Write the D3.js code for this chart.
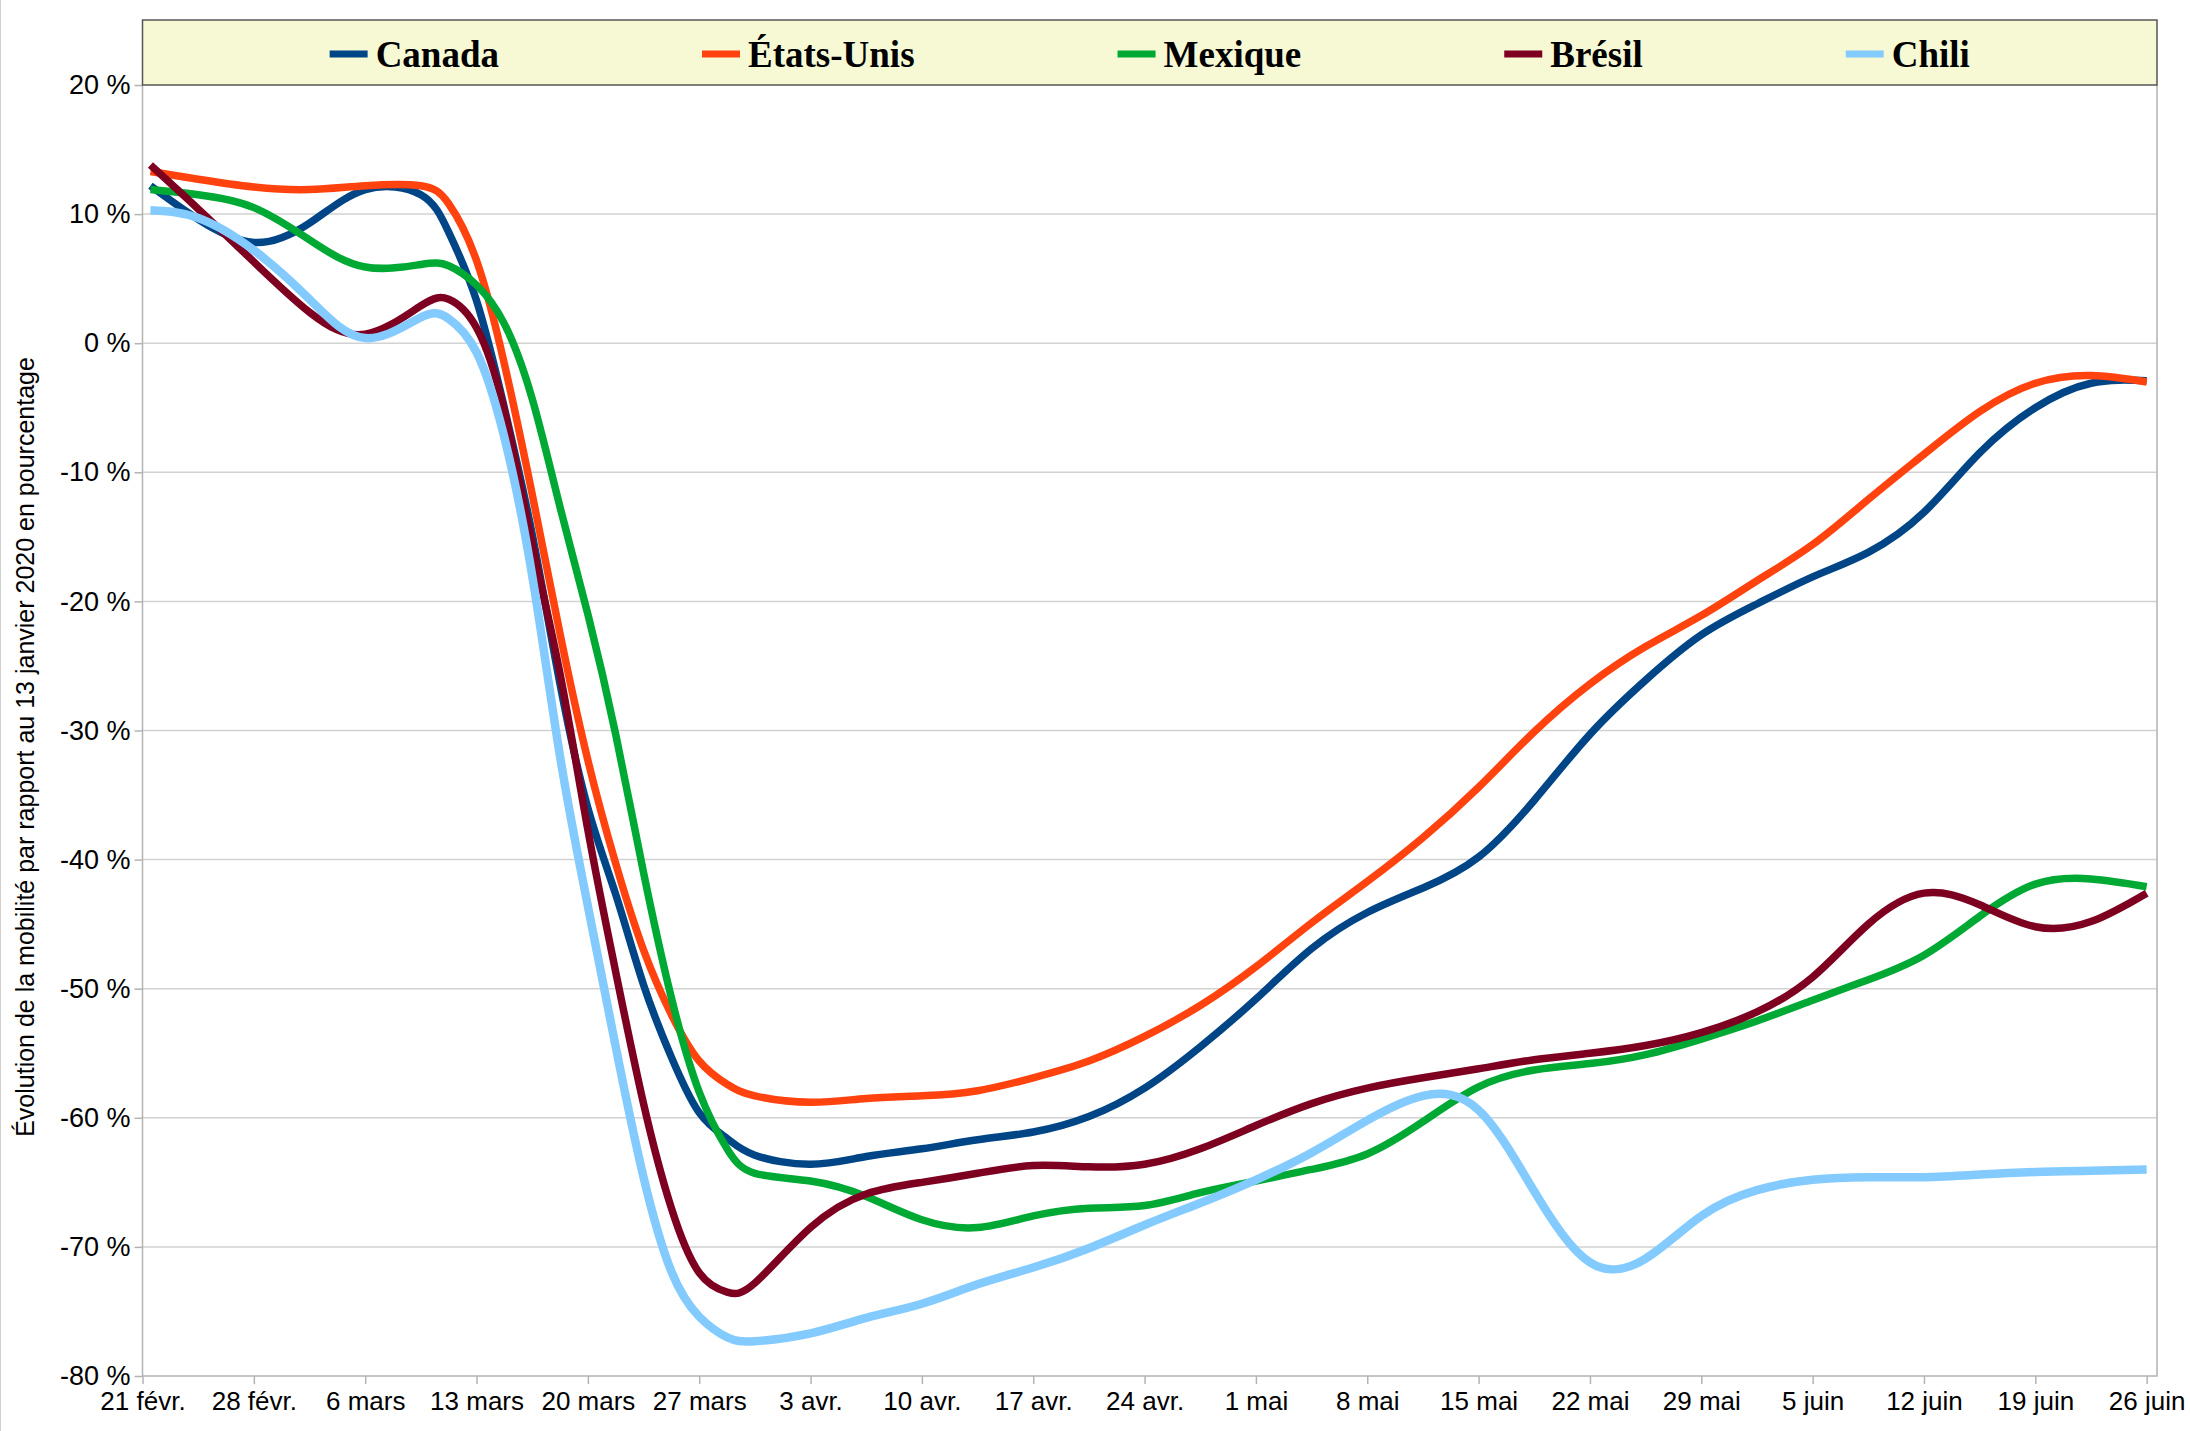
<!DOCTYPE html>
<html lang="fr">
<head>
<meta charset="utf-8">
<title>Mobilité</title>
<script src="https://cdn.jsdelivr.net/npm/d3@7"></script>
<style>
    body { margin: 0; background: #fff; }
    svg { display: block; font-family: "Liberation Sans", Arial, sans-serif; }
</style>
</head>
<body>
<svg id="chart" width="2190" height="1431"></svg>
<script>
// jours depuis le 21 février
const days = [0.5, 3.5, 7, 10.5, 14, 17.5, 19.25, 21, 22.75, 24.5, 26.25, 28, 29.75, 31.5, 33.25, 35, 36.75, 38.5,
    42, 45.5, 49, 52.5, 56, 59.5, 63, 66.5, 70, 73.5, 77, 80.5, 84, 87.5, 91, 94.5, 98, 101.5, 105, 108.5, 112, 115.5, 119, 122.5, 126];

const canada = [12.2, 9.6, 7.8, 9.3, 11.9, 11.5, 8.6, 3.3, -5.0, -14.8, -26.4, -36.0, -42.7, -49.7, -55.3, -59.6, -61.6, -62.9,
    -63.6, -63.0, -62.4, -61.7, -61.1, -59.9, -57.7, -54.5, -50.8, -46.9, -44.1, -42.2, -39.8, -35.4, -30.3, -26.1, -22.6, -20.2, -18.1, -16.2, -13.1, -8.5, -5.0, -3.1, -2.9];
const etatsUnis = [13.3, 12.7, 12.1, 11.9, 12.2, 12.2, 10.8, 6.4, -1.6, -11.7, -22.5, -32.3, -40.3, -47.0, -52.0, -55.6, -57.4, -58.3,
    -58.8, -58.5, -58.3, -57.9, -56.9, -55.6, -53.7, -51.3, -48.3, -44.9, -41.7, -38.3, -34.4, -30.1, -26.4, -23.5, -21.1, -18.4, -15.6, -12.1, -8.6, -5.3, -3.1, -2.5, -3.0];
const mexique = [11.9, 11.5, 10.5, 8.0, 5.9, 6.1, 6.0, 4.5, 1.5, -4.3, -12.7, -21.0, -30.3, -41.0, -50.7, -58.0, -62.4, -64.3,
    -64.9, -66.1, -67.9, -68.5, -67.6, -67.0, -66.8, -65.8, -64.9, -64.0, -62.8, -60.3, -57.6, -56.3, -55.8, -55.1, -53.9, -52.5, -50.9, -49.3, -47.4, -44.4, -41.9, -41.5, -42.1];
const bresil = [13.8, 10.4, 6.3, 2.4, 0.7, 2.9, 3.4, 1.2, -5.2, -15.5, -25.6, -37.7, -48.7, -58.9, -67.0, -72.0, -73.5, -72.8,
    -68.5, -65.9, -65.0, -64.3, -63.7, -63.8, -63.6, -62.4, -60.6, -58.9, -57.7, -56.9, -56.2, -55.5, -55.0, -54.4, -53.4, -51.8, -49.1, -45.0, -42.6, -43.5, -45.2, -44.8, -42.6];
const chili = [10.3, 9.7, 7.2, 3.4, 0.4, 2.0, 1.9, -0.7, -7.3, -18.0, -32.0, -43.6, -54.5, -64.6, -71.9, -75.4, -77.0, -77.3,
    -76.7, -75.5, -74.4, -72.9, -71.6, -70.1, -68.3, -66.6, -64.8, -62.7, -60.2, -58.3, -59.4, -65.7, -71.2, -70.9, -67.6, -65.6, -64.8, -64.6, -64.6, -64.4, -64.2, -64.1, -64.0];

const seriesNames = ["Canada", "États-Unis", "Mexique", "Brésil", "Chili"];
const seriesValues = [canada, etatsUnis, mexique, bresil, chili];
const seriesColors = ["#004586", "#ff420e", "#00a933", "#7e0021", "#83caff"];

const tickDays = [0, 7, 14, 21, 28, 35, 42, 49, 56, 63, 70, 77, 84, 91, 98, 105, 112, 119, 126];
const tickLabels = ["21 févr.", "28 févr.", "6 mars", "13 mars", "20 mars", "27 mars", "3 avr.", "10 avr.", "17 avr.",
    "24 avr.", "1 mai", "8 mai", "15 mai", "22 mai", "29 mai", "5 juin", "12 juin", "19 juin", "26 juin"];
const yTicks = [-80, -70, -60, -50, -40, -30, -20, -10, 0, 10, 20];

const yTitle = "Évolution de la mobilité par rapport au 13 janvier 2020 en pourcentage";

const svg = d3.select("#chart");
const plot = { left: 142.5, right: 2157, top: 85, bottom: 1376 };

const x = d3.scaleLinear().domain([0, 126.65]).range([plot.left, plot.right]);
const y = d3.scaleLinear().domain([-80, 20]).range([plot.bottom, plot.top]);

// bord gauche de la page
svg.append("line")
    .attr("x1", 0.5).attr("x2", 0.5).attr("y1", 0).attr("y2", 1431)
    .attr("stroke", "#d0d0d0").attr("stroke-width", 1);

// grille
svg.append("g")
    .selectAll("line")
    .data(yTicks.filter(d => d > -80 && d < 20))
    .enter()
    .append("line")
    .attr("x1", plot.left).attr("x2", plot.right)
    .attr("y1", d => y(d)).attr("y2", d => y(d))
    .attr("stroke", "#d2d2d2").attr("stroke-width", 1.5);

// cadre
svg.append("path")
    .attr("d", `M${plot.left},${plot.top}V${plot.bottom}H${plot.right}V${plot.top}`)
    .attr("fill", "none").attr("stroke", "#b3b3b3").attr("stroke-width", 1.5);

const yAxis = d3.axisLeft(y)
    .tickValues(yTicks)
    .tickSize(8)
    .tickPadding(4)
    .tickFormat(d => d + " %");

const gy = svg.append("g")
    .attr("transform", `translate(${plot.left},0)`)
    .call(yAxis);
gy.select(".domain").remove();
gy.selectAll(".tick line").attr("stroke", "#b3b3b3").attr("stroke-width", 1.5);
gy.selectAll(".tick text").attr("fill", "#000").style("font-size", "27px").style("font-family", "Liberation Sans, Arial, sans-serif");

const xAxis = d3.axisBottom(x)
    .tickValues(tickDays)
    .tickSize(8)
    .tickPadding(8)
    .tickFormat((d, i) => tickLabels[i]);

const gx = svg.append("g")
    .attr("transform", `translate(0,${plot.bottom})`)
    .call(xAxis);
gx.select(".domain").remove();
gx.selectAll(".tick line").attr("stroke", "#b3b3b3").attr("stroke-width", 1.5);
gx.selectAll(".tick text").attr("fill", "#000").style("font-size", "26px").style("font-family", "Liberation Sans, Arial, sans-serif");

// titre de l'axe
svg.append("text")
    .attr("transform", "translate(34,747) rotate(-90)")
    .attr("text-anchor", "middle")
    .style("font-size", "25px")
    .text(yTitle);

// courbes
const line = d3.line()
    .x(d => x(d[0]))
    .y(d => y(d[1]))
    .curve(d3.curveNatural);

svg.append("g")
    .selectAll("path")
    .data(seriesValues)
    .enter()
    .append("path")
    .attr("d", vals => line(vals.map((v, i) => [days[i], v])))
    .attr("fill", "none")
    .attr("stroke", (d, i) => seriesColors[i])
    .attr("stroke-width", (d, i) => i === 4 ? 8.5 : 7.5)
    .attr("stroke-linejoin", "round");

// légende
const legend = svg.append("g");
legend.append("rect")
    .attr("x", plot.left).attr("y", 20)
    .attr("width", plot.right - plot.left).attr("height", plot.top - 20)
    .attr("fill", "#f6f9d4").attr("stroke", "#555").attr("stroke-width", 1.5);

const items = legend.selectAll(".item")
    .data(seriesNames)
    .enter()
    .append("g")
    .attr("class", "item");

items.append("line")
    .attr("x1", 0).attr("x2", 38)
    .attr("y1", 54).attr("y2", 54)
    .attr("stroke", (d, i) => seriesColors[i])
    .attr("stroke-width", 7);

items.append("text")
    .attr("x", 46).attr("y", 54)
    .attr("dy", "0.35em")
    .style("font-family", "Liberation Serif, Times New Roman, serif")
    .style("font-weight", "bold")
    .style("font-size", "37px")
    .text(d => d);

const gap = 203;
const widths = [];
items.each(function() {
    widths.push(46 + d3.select(this).select("text").node().getComputedTextLength());
});
const total = d3.sum(widths) + gap * (widths.length - 1);
let cursor = (plot.left + plot.right) / 2 - total / 2;
items.attr("transform", (d, i) => {
    const pos = cursor;
    cursor += widths[i] + gap;
    return `translate(${pos},0)`;
});
</script>
</body>
</html>
